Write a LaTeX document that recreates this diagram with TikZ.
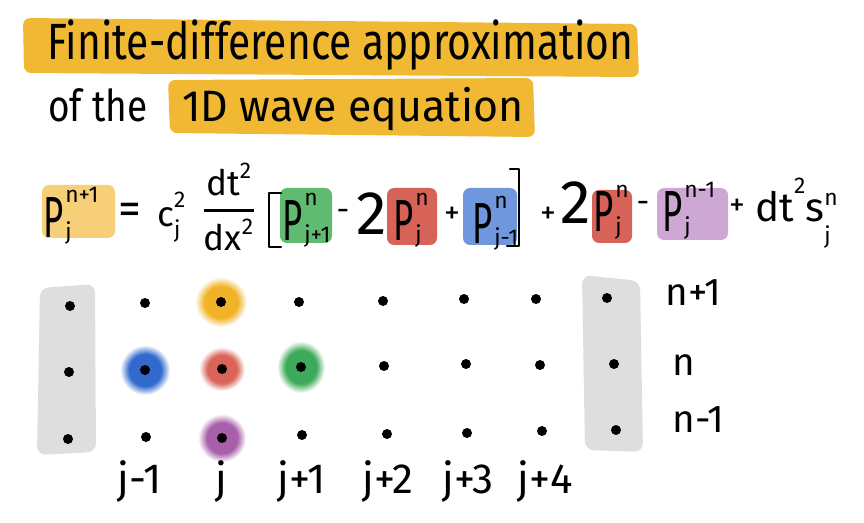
\documentclass[tikz,border=0pt]{standalone}
\usepackage{amsmath}
\usepackage{graphicx}
\usepackage{fontspec}
\setmainfont{Fira Sans}
\usepackage{tikz}
\definecolor{titleyellow}{RGB}{241,184,52}
\definecolor{boxyellow}{RGB}{246,207,120}
\definecolor{boxgreen}{RGB}{96,186,112}
\definecolor{boxred}{RGB}{214,98,88}
\definecolor{boxblue}{RGB}{112,150,222}
\definecolor{boxpurple}{RGB}{205,168,212}
\definecolor{dotyellow}{RGB}{242,178,40}
\definecolor{dotblue}{RGB}{50,105,205}
\definecolor{dotred}{RGB}{218,100,90}
\definecolor{dotgreen}{RGB}{60,170,90}
\definecolor{dotpurple}{RGB}{170,95,170}
\definecolor{graybox}{RGB}{222,222,222}
\newcommand{\scrfont}{\fontsize{13}{13}\selectfont}
\newcommand{\subsup}[5]{#1\rlap{\raisebox{#4}{\scrfont #3}}\raisebox{#5}{\scrfont #2}}
\newcommand{\pterm}[2]{\subsup{\scalebox{0.6}[1]{P}\kern1pt}{#1}{#2}{0.6em}{-0.05em}}
\newcommand{\fitw}[2]{\resizebox{#1}{\height}{#2}}
\newcommand{\glowshading}[1]{\pgfdeclareradialshading{glow#1}{\pgfpointorigin}{color(0bp)=(dot#1); color(16bp)=(dot#1); color(25bp)=(white); color(50bp)=(white)}}
\glowshading{yellow}
\glowshading{blue}
\glowshading{red}
\glowshading{green}
\glowshading{purple}
\tikzset{
  eqterm/.style={font=\fontsize{33}{36}\selectfont, inner sep=0pt, anchor=base west},
  eqop/.style={font=\fontsize{18}{20}\selectfont, inner sep=0pt},
  bigtwo/.style={font=\fontsize{35}{38}\selectfont, inner sep=0pt},
  termbox/.style={rounded corners=4pt},
  bracket/.style={line width=1.3pt, line cap=round, line join=round},
  griddot/.style={circle, fill=black, inner sep=0pt, minimum size=0.2cm},
  collabel/.style={font=\fontsize{24}{26}\selectfont, inner sep=0pt, anchor=base},
  rowlabel/.style={font=\fontsize{22}{24}\selectfont, inner sep=0pt, anchor=base west}
}

\begin{document}
\begin{tikzpicture}[x=0.02cm, y=-0.02cm]
\useasboundingbox (0,0) rectangle (864,523);
\fill[titleyellow, rounded corners=4pt] (23,18) -- (637,24) -- (639,77) -- (24,73) -- cycle;
\fill[titleyellow, rounded corners=4pt] (168,80) -- (533,78) -- (535,137) -- (170,133) -- cycle;
\node[inner sep=0pt, anchor=base west, font=\fontsize{29}{32}\selectfont] (title1) at (47,60) {\fitw{11.72cm}{Finite-difference approximation}};
\node[inner sep=0pt, anchor=base west, font=\fontsize{25}{28}\selectfont] (title2a) at (48,122) {\fitw{1.98cm}{of the}};
\node[inner sep=0pt, anchor=base west, font=\fontsize{25}{28}\selectfont] (title2b) at (182,122) {\fitw{6.82cm}{1D wave equation}};

\fill[boxyellow, termbox] (42,185) rectangle (115,238);
\fill[boxgreen, termbox] (280,188) rectangle (332,243);
\fill[boxred, termbox] (387,188) rectangle (437,245);
\fill[boxblue, termbox] (463,188) rectangle (517,245);
\fill[boxred, termbox] (592,190) rectangle (632,243);
\fill[boxpurple, termbox] (657,188) rectangle (728,240);
\node[eqterm] (lhs) at (43,237) {\pterm{j}{n+1}};
\node[eqop, font=\fontsize{26}{28}\selectfont] (equals) at (130,214) {=};
\node[eqterm, font=\fontsize{20}{22}\selectfont] (cterm) at (157,227) {\subsup{c}{j}{2}{0.55em}{-0.3em}};
\node[inner sep=0pt, font=\fontsize{20}{22}\selectfont] (frac) at (229,207) {$\genfrac{}{}{1.3pt}{0}{\text{dt}^{\text{\scrfont 2}}}{\text{dx}^{\text{\scrfont 2}}}$};
\draw[bracket] (281,193) -- (269,193) -- (269,247) -- (281,247);
\node[eqterm] (pright) at (282,240) {\pterm{j+1}{n}};
\node[eqop] (minusa) at (343,215) {-};
\node[bigtwo] (twoa) at (372,214) {2};
\node[eqterm] (pmida) at (393,240) {\pterm{j}{n}};
\node[eqop] (plusa) at (452,215) {+};
\node[eqterm] (pleft) at (472,243) {\pterm{j-1}{n}};
\draw[bracket] (510,169) -- (519,169) -- (519,246) -- (507,246);
\node[eqop] (plusb) at (548,215) {+};
\node[bigtwo] (twob) at (576,203) {2};
\node[eqterm] (pmidb) at (593,232) {\pterm{j}{n}};
\node[eqop] (minusb) at (643,207) {-};
\node[eqterm] (pold) at (662,232) {\pterm{j}{n-1}};
\node[eqop] (plusc) at (737,207) {+};
\node[eqterm, font=\fontsize{23}{25}\selectfont] (source) at (755,222) {dt\raisebox{0.71em}{\scrfont 2}\subsup{s}{j}{n}{0.42em}{-0.52em}};

\fill[graybox, rounded corners=5pt] (40,288) -- (95,284) -- (96,452) -- (37,455) -- cycle;
\fill[graybox, rounded corners=5pt] (582,275) -- (640,281) -- (643,452) -- (585,450) -- cycle;
\foreach \col/\row/\x/\y in {1/1/70/306, 1/2/69/372, 1/3/68/439,
  2/1/145/303, 2/2/145/370, 2/3/146/437,
  3/1/221/302, 3/2/222/369, 3/3/222/438,
  4/1/299/302, 4/2/301/367, 4/3/302/435,
  5/1/383/301, 5/2/384/366, 5/3/387/434,
  6/1/464/299, 6/2/466/364, 6/3/467/433,
  7/1/536/299, 7/2/540/365, 7/3/542/431,
  8/1/607/298, 8/2/614/364, 8/3/616/430}
  \coordinate (p-\col-\row) at (\x,\y);
\shade[shading=glowyellow] (p-3-1) ellipse [x radius=26, y radius=25];
\shade[shading=glowblue] (p-2-2) ellipse [x radius=25, y radius=25];
\shade[shading=glowred] (p-3-2) ellipse [x radius=23, y radius=22];
\shade[shading=glowgreen] (p-4-2) ellipse [x radius=24, y radius=26];
\shade[shading=glowpurple] (p-3-3) ellipse [x radius=24, y radius=24];
\foreach \col in {1,...,8}
  \foreach \row in {1,2,3}
    \node[griddot] (d-\col-\row) at (p-\col-\row) {};

\node[collabel] (lab-jm1) at (140,493) {j-1};
\node[collabel] (lab-j) at (221,493) {j};
\node[collabel] (lab-jp1) at (302,493) {j+1};
\node[collabel] (lab-jp2) at (388,493) {j+2};
\node[collabel] (lab-jp3) at (468,493) {j+3};
\node[collabel] (lab-jp4) at (545,493) {j+4};
\node[rowlabel] (lab-np1) at (665,305) {n+1};
\node[rowlabel] (lab-n) at (672,375) {n};
\node[rowlabel] (lab-nm1) at (672,432) {n-1};
\end{tikzpicture}
\end{document}
